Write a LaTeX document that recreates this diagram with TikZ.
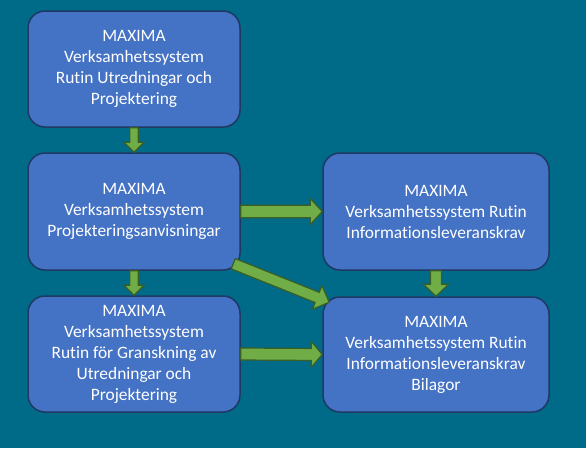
\documentclass[tikz,border=0pt]{standalone}
\usepackage{fontspec}
\setmainfont[RawFeature={-liga;-clig}]{Carlito}
\usetikzlibrary{calc}
\definecolor{bgteal}{HTML}{006A89}
\definecolor{boxblue}{HTML}{4472C4}
\definecolor{boxline}{HTML}{1F3864}
\definecolor{arrgreen}{HTML}{70AD47}
\definecolor{arrline}{HTML}{3B5E24}
\tikzset{
  flowbox/.style={draw=boxline, line width=1.5pt, fill=boxblue, rounded corners=17pt,
    align=center, text=white, font=\fontsize{17.4}{21}\selectfont, inner sep=0pt},
  blockarrow/.style={draw=arrline, line width=1.2pt, fill=arrgreen, line join=miter},
}
% from, to, half shaft, half head, head length
\newcommand{\blockarrow}[5]{%
  \coordinate (ha) at ($(#2)!#5!(#1)$);
  \draw[blockarrow] ($(#1)!#3!90:(#2)$) -- ($(ha)!#3!90:(#2)$) -- ($(ha)!#4!90:(#2)$)
    -- (#2) -- ($(ha)!#4!-90:(#2)$) -- ($(ha)!#3!-90:(#2)$) -- ($(#1)!#3!-90:(#2)$) -- cycle;
}
\begin{document}
\begin{tikzpicture}[x=1pt,y=-1pt]
\fill[bgteal] (0,0) rectangle (586,448);
\useasboundingbox (0,0) rectangle (586,448);
\node[flowbox, minimum width=212pt, minimum height=116pt] (b1) at (134,69)
  {MAXIMA\\Verksamhetssystem\\Rutin Utredningar och\\Projektering};
\node[flowbox, minimum width=212pt, minimum height=117pt] (b2) at (134,211.5)
  {MAXIMA\\Verksamhetssystem\\Projekteringsanvisningar};
\node[flowbox, minimum width=212pt, minimum height=116pt] (b3) at (134,354)
  {MAXIMA\\Verksamhetssystem\\Rutin för Granskning av\\Utredningar och\\Projektering};
\node[flowbox, minimum width=226pt, minimum height=117pt] (b4) at (436,211.5)
  {MAXIMA\\Verksamhetssystem Rutin\\Informationsleveranskrav};
\node[flowbox, minimum width=226pt, minimum height=115pt] (b5) at (436,354.5)
  {MAXIMA\\Verksamhetssystem Rutin\\Informationsleveranskrav\\Bilagor};
\coordinate (d1) at ($(b2.south east)+(-7.5,-7)$);
\coordinate (d2) at ($(b5.north west)+(7,6)$);
\blockarrow{b1.south}{b2.north}{4.25pt}{10pt}{10pt}
\blockarrow{b2.south}{b3.north}{4.25pt}{10pt}{10pt}
\blockarrow{b4.south}{b5.north}{5.5pt}{12.5pt}{12pt}
\blockarrow{b2.east}{b4.west}{6.2pt}{13pt}{12pt}
\blockarrow{b3.east}{b5.west}{6pt}{13pt}{11pt}
\blockarrow{d1}{d2}{5.5pt}{12.7pt}{13pt}
\end{tikzpicture}
\end{document}
